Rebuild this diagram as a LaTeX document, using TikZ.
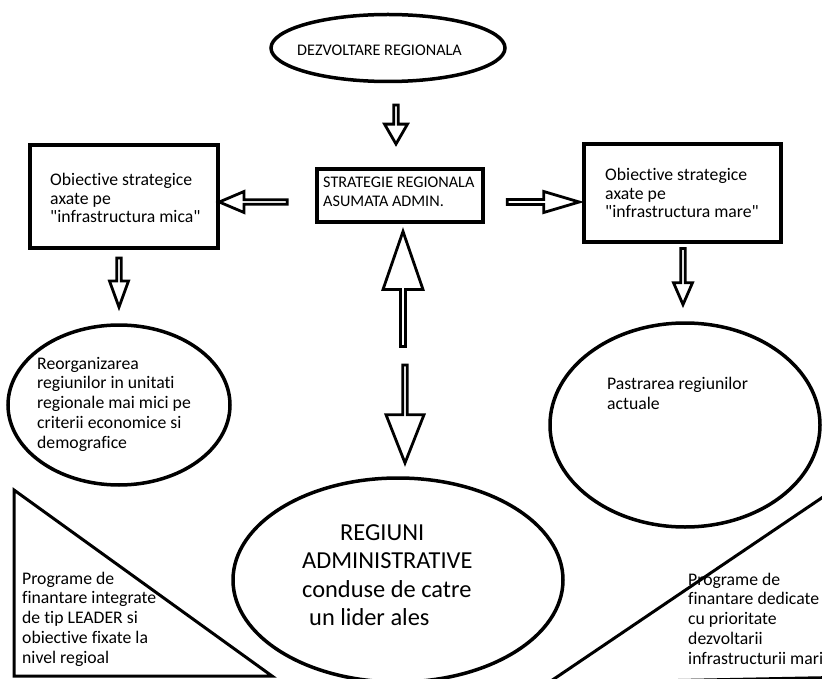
\documentclass[tikz,border=0pt]{standalone}
\usepackage{fontspec}
\setmainfont[Ligatures={NoCommon,NoRare,NoContextual}]{Carlito}
\usetikzlibrary{shapes.geometric,shapes.arrows}
\begin{document}
\begin{tikzpicture}[x=1pt,y=-1pt,
  boxline/.style={draw=black, line width=4pt, fill=white, inner sep=0pt},
  ellline/.style={ellipse, draw=black, line width=3.5pt, fill=white, inner sep=0pt},
  triline/.style={draw=black, line width=3pt, line join=miter},
  txt/.style={inner sep=0pt, align=left, anchor=base west, text=black,
              font=\fontsize{17.7}{19.75}\selectfont},
  boxtxt/.style={txt, font=\fontsize{17.7}{18.6}\selectfont},
  captxt/.style={txt, font=\fontsize{16.2}{19}\selectfont},
  bigtxt/.style={txt, font=\fontsize{24.4}{28.3}\selectfont},
  barrow/.style={single arrow, draw=black, line width=2.8pt, fill=white,
                 inner sep=0pt, minimum size=0pt},
]
\useasboundingbox (0,0) rectangle (822,679);
\fill[white] (0,0) rectangle (822,679);
\clip (0,0) rectangle (822,679);

% triangles
\coordinate (lt1) at (14,490);
\coordinate (lt2) at (14,676);
\coordinate (lt3) at (272,676);
\draw[triline] (lt1) -- (lt2) -- (lt3) -- cycle;
\coordinate (rt1) at (548,683);
\coordinate (rt2) at (860,472);
\coordinate (rt3) at (860,677);
\draw[triline] (rt1) -- (rt2) -- (rt3) -- cycle;

% top ellipse
\node[ellline, minimum width=234pt, minimum height=67pt] (dez) at (388,48) {};
\node[captxt] (dezt) at (297,55.7) {DEZVOLTARE REGIONALA};

% boxes
\node[boxline, minimum width=166pt, minimum height=53pt] (strat) at (400,195.5) {};
\node[captxt] (stratt) at (323,206.7) {STRATEGIE REGIONALA\\ASUMATA ADMIN.};

\node[boxline, minimum width=188pt, minimum height=103pt] (mica) at (124,196.5) {};
\node[boxtxt] (micat) at (50,223) {Obiective strategice\\axate pe\\\textquotedbl infrastructura mica\textquotedbl};

\node[boxline, minimum width=197pt, minimum height=98pt] (mare) at (682.5,193) {};
\node[boxtxt] (maret) at (605,218) {Obiective strategice\\axate pe\\\textquotedbl infrastructura mare\textquotedbl};

% ellipses
\node[ellline, minimum width=222pt, minimum height=160pt] (reorg) at (119,405) {};
\node[txt] (reorgt) at (37,448) {Reorganizarea\\regiunilor in unitati\\regionale mai mici pe\\criterii economice si\\demografice};

\node[ellline, minimum width=270pt, minimum height=204pt] (past) at (685,425) {};
\node[txt] (pastt) at (607,409) {Pastrarea regiunilor\\actuale};

\node[ellline, minimum width=330pt, minimum height=204pt] (reg) at (398,580) {};
\node[bigtxt] (regt) at (302,625.5) {\hspace*{38pt}REGIUNI\\ADMINISTRATIVE\\conduse de catre\\\hspace*{7pt}un lider ales};

% triangle texts
\node[txt] (leadert) at (22,663) {Programe de\\finantare integrate\\de tip LEADER si\\obiective fixate la\\nivel regioal};
\node[txt] (infrat) at (688,664) {Programe de\\finantare dedicate\\cu prioritate\\dezvoltarii\\infrastructurii mari};

% block arrows
\node[barrow, shape border rotate=270, minimum height=39pt, minimum width=23pt,
      single arrow head extend=5.5pt, single arrow tip angle=60] (a1) at (396,122.5) {};
\node[barrow, shape border rotate=180, minimum height=68pt, minimum width=21pt,
      single arrow head extend=5pt, single arrow tip angle=46] (a2) at (256,202) {};
\node[barrow, shape border rotate=0, minimum height=72pt, minimum width=21pt,
      single arrow head extend=4.5pt, single arrow tip angle=33] (a3) at (539,202) {};
\node[barrow, shape border rotate=270, minimum height=49pt, minimum width=19pt,
      single arrow head extend=4.5pt, single arrow tip angle=40] (a4) at (119,279.5) {};
\node[barrow, shape border rotate=270, minimum height=56pt, minimum width=19pt,
      single arrow head extend=4.5pt, single arrow tip angle=47] (a5) at (683,274) {};
\node[barrow, shape border rotate=90, minimum height=115pt, minimum width=40pt,
      single arrow head extend=10pt, single arrow tip angle=38] (a6) at (403,292.5) {};
\node[barrow, shape border rotate=270, minimum height=98pt, minimum width=38pt,
      single arrow head extend=10pt, single arrow tip angle=43] (a7) at (405,411) {};
\end{tikzpicture}
\end{document}
